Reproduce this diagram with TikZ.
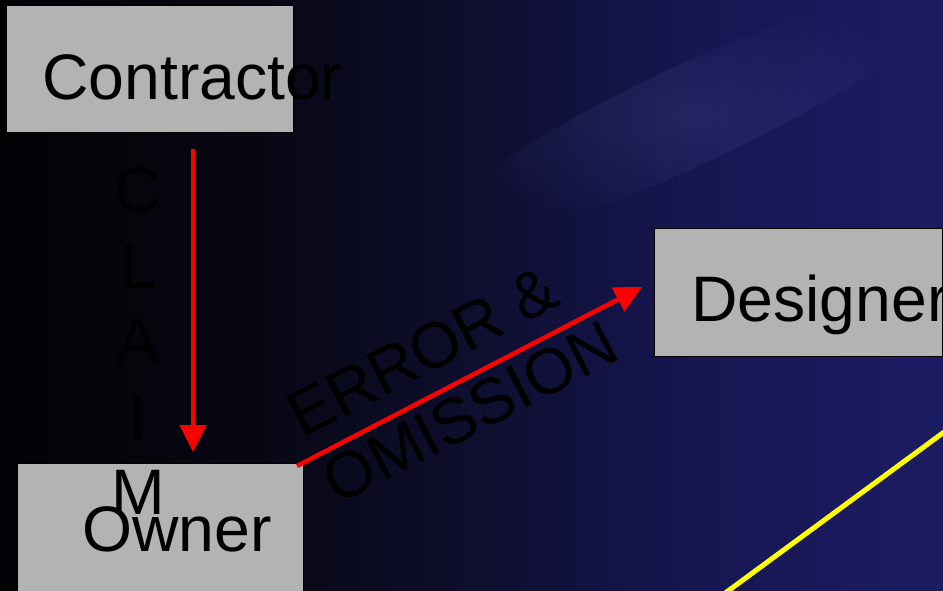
\documentclass[tikz,border=0pt]{standalone}
\usepackage{fontspec}
\setmainfont{Liberation Sans}
\usetikzlibrary{arrows.meta,fadings}
\definecolor{boxgray}{RGB}{179,179,179}
\definecolor{arrowred}{RGB}{255,0,0}
\definecolor{lineyellow}{RGB}{255,255,0}
\definecolor{bgA}{RGB}{2,2,5}
\definecolor{bgB}{RGB}{7,7,18}
\definecolor{bgC}{RGB}{14,14,46}
\definecolor{bgD}{RGB}{22,22,82}
\definecolor{bgE}{RGB}{28,28,100}
\definecolor{streak}{RGB}{70,70,140}
\pgfdeclarehorizontalshading{bgshade}{100bp}{color(0bp)=(bgA); color(25bp)=(bgA); color(38bp)=(bgB); color(50bp)=(bgC); color(62bp)=(bgD); color(75bp)=(bgE); color(100bp)=(bgE)}
\tikzfading[name=softglow, inner color=transparent!0, outer color=transparent!100]
\tikzset{
  box/.style={draw=black, line width=1pt, fill=boxgray, inner sep=0pt},
  bigtext/.style={font=\fontsize{64.3}{75.5}\selectfont, text=black, inner sep=0pt},
  redarrow/.style={draw=arrowred, line width=4.5pt, -{Triangle[length=27pt,width=26pt]}},
  yellowline/.style={draw=lineyellow, line width=5pt}
}
\begin{document}
\begin{tikzpicture}[x=1pt,y=-1pt]
\useasboundingbox (0,0) rectangle (943,591);
\clip (0,0) rectangle (943,591);
% background
\shade[shading=bgshade] (0,0) rectangle (943,591);
\fill[streak, opacity=0.3, path fading=softglow, rotate around={25:(690,115)}] (690,115) ellipse [x radius=280pt, y radius=50pt];
% boxes
\node[box, minimum width=287pt, minimum height=127pt, anchor=north west] (contractor) at (6,5) {};
\node[box, minimum width=288pt, minimum height=128pt, anchor=north west] (designer) at (654,228) {};
\node[box, minimum width=286pt, minimum height=130pt, anchor=north west] (owner) at (17,463) {};
% texts
\node[bigtext, anchor=base west] (contractortext) at (42,99.5) {Contractor};
\node[bigtext, anchor=base west] (designertext) at (691,321.7) {Designer};
\node[bigtext, anchor=base west] (ownertext) at (82,551.7) {Owner};
\node[bigtext, align=center] (claim) at (138,341.5) {C\\L\\A\\I\\M};
\node[bigtext, align=left, rotate=27.4, anchor=north west] (eo) at (282,399) {ERROR \&\\OMISSION};
% connectors
\coordinate (arrowx) at (193,0);
\draw[redarrow, shorten <=16pt, shorten >=11pt] (contractor.south -| arrowx) -- (owner.north -| arrowx);
\coordinate (eostart) at (297,466);
\coordinate (eoend) at (642,287);
\draw[redarrow] (eostart) -- (eoend);
\coordinate (yl1) at (700,611.6);
\coordinate (yl2) at (970,413);
\draw[yellowline] (yl1) -- (yl2);
\end{tikzpicture}
\end{document}
